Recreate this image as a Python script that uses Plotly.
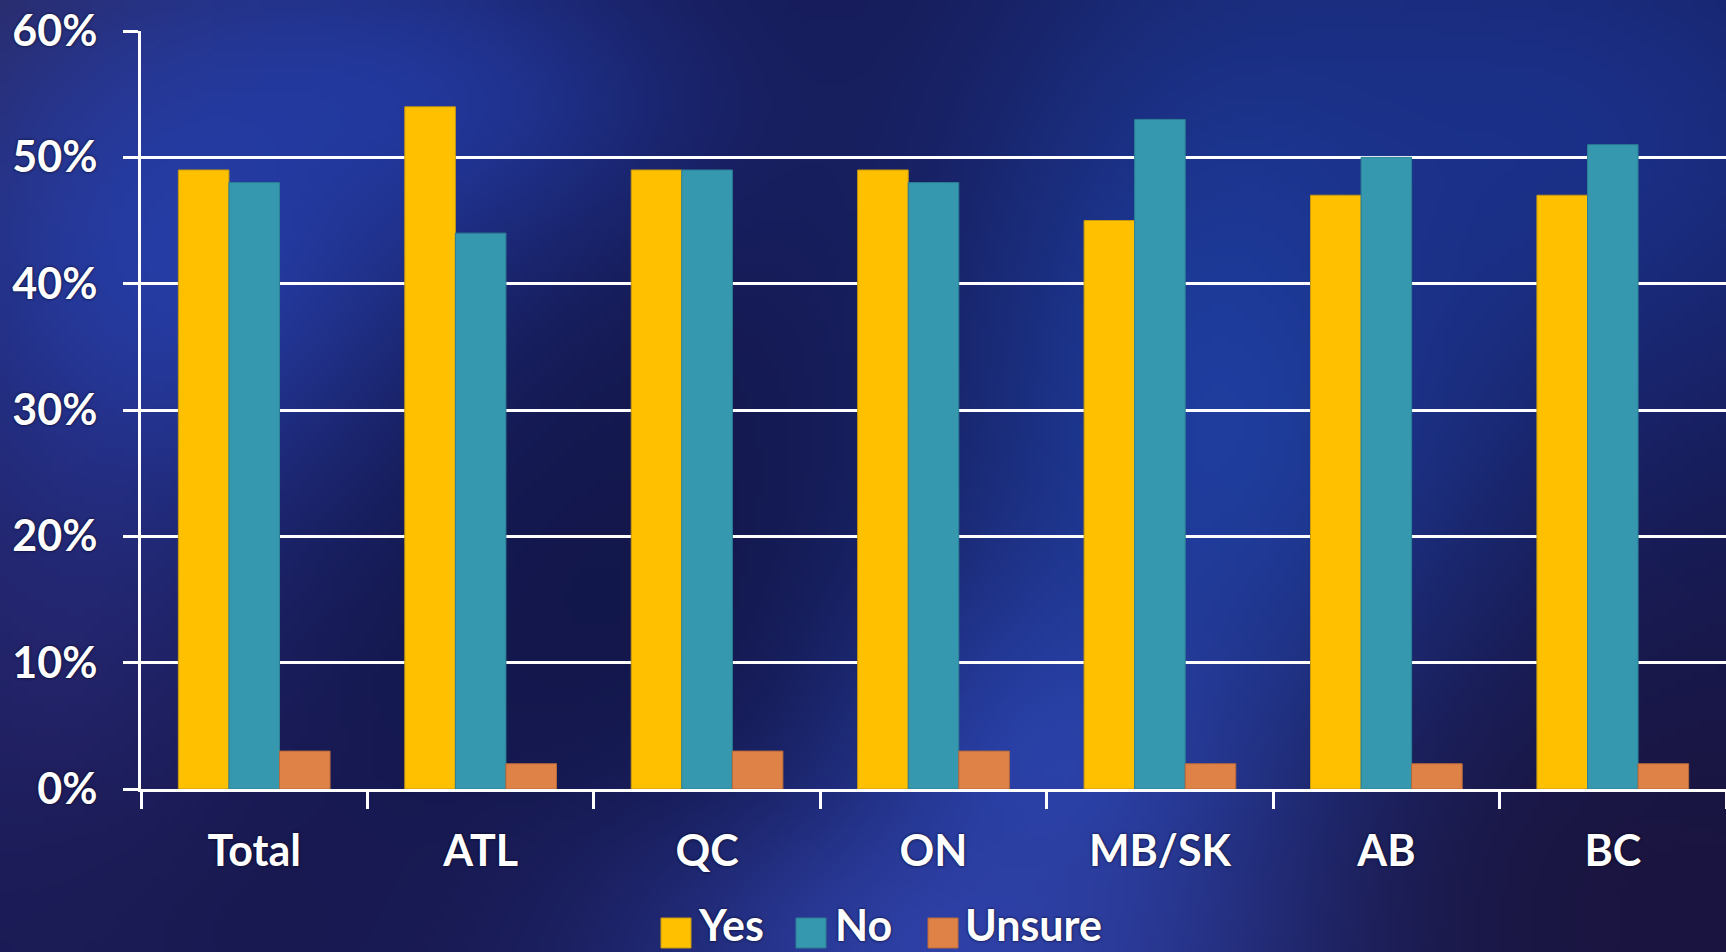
import base64
import struct
import zlib

import numpy as np
import plotly.graph_objects as go

# ---------------- data ----------------
categories = ["Total", "ATL", "QC", "ON", "MB/SK", "AB", "BC"]
yes_vals = [49, 54, 49, 49, 45, 47, 47]
no_vals = [48, 44, 49, 48, 53, 50, 51]
unsure_vals = [3, 2, 3, 3, 2, 2, 2]
series_names = ["Yes", "No", "Unsure"]
y_ticks = [0, 10, 20, 30, 40, 50, 60]
y_tick_labels = ["0%", "10%", "20%", "30%", "40%", "50%", "60%"]

# ---------------- style ----------------
W, H = 1726, 952
ML, MR, MT, MB = 141, 0, 31, 163
PW, PH = W - ML - MR, H - MT - MB
colors = ["#FFC000", "#3598AE", "#DF8248"]
edge_colors = ["#C89A10", "#2C7F95", "#B86A3A"]
FONT = "Lato"
FS = 43


# ---------------- background (soft glow texture) ----------------
def make_background():
    sc = 8
    w, h = W // sc + 1, H // sc + 1
    ys, xs = np.mgrid[0:h, 0:w].astype(float) * sc
    img = np.zeros((h, w, 3))
    img[:] = (22, 26, 84)
    blobs = [
        ((0, 0), (260, 220), (46, 42, 92), 0.85),
        ((60, 620), (150, 260), (42, 40, 115), 0.7),
        ((200, 260), (190, 190), (40, 66, 178), 0.9),
        ((400, 110), (200, 120), (36, 62, 172), 0.8),
        ((620, 620), (230, 260), (17, 21, 70), 0.7),
        ((1230, 420), (190, 320), (32, 70, 175), 0.85),
        ((1080, 780), (160, 150), (46, 76, 192), 0.85),
        ((960, 960), (260, 110), (52, 74, 188), 0.85),
        ((1560, 140), (260, 200), (28, 54, 150), 0.75),
        ((1680, 920), (320, 230), (27, 20, 60), 0.85),
        ((250, 920), (300, 120), (26, 24, 78), 0.6),
    ]
    for (cx, cy), (sx, sy), tgt, wgt in blobs:
        g = np.exp(-(((xs - cx) / sx) ** 2 + ((ys - cy) / sy) ** 2) / 2) * wgt
        for c in range(3):
            img[..., c] = img[..., c] * (1 - g) + tgt[c] * g
    img = np.clip(img, 0, 255).astype(np.uint8)
    raw = b"".join(b"\x00" + img[r].tobytes() for r in range(h))

    def chunk(tag, data):
        return (struct.pack(">I", len(data)) + tag + data
                + struct.pack(">I", zlib.crc32(tag + data) & 0xFFFFFFFF))

    png = (b"\x89PNG\r\n\x1a\n"
           + chunk(b"IHDR", struct.pack(">IIBBBBB", w, h, 8, 2, 0, 0, 0))
           + chunk(b"IDAT", zlib.compress(raw, 9))
           + chunk(b"IEND", b""))
    return "data:image/png;base64," + base64.b64encode(png).decode()


fig = go.Figure()
for name, vals, col, ec in zip(series_names, [yes_vals, no_vals, unsure_vals],
                               colors, edge_colors):
    fig.add_trace(go.Bar(
        x=categories, y=vals, name=name,
        marker=dict(color=col, line=dict(color=ec, width=1)),
        showlegend=False,
    ))

font = dict(family=FONT, size=FS, color="white", weight="bold",
            shadow="0px 0px 3px rgba(0,0,20,0.9)")

fig.update_layout(
    width=W, height=H,
    margin=dict(l=ML, r=MR, t=MT, b=MB, pad=0),
    paper_bgcolor="#161a54",
    plot_bgcolor="rgba(0,0,0,0)",
    barmode="group", bargap=0.33, bargroupgap=0,
    font=font,
    xaxis=dict(
        type="category", range=[-0.5, 6.5],
        showgrid=False, zeroline=False,
        showline=True, linecolor="white", linewidth=3,
        ticks="outside", tickson="boundaries", ticklen=17,
        tickwidth=3, tickcolor="white",
        tickfont=font, ticklabelstandoff=22,
    ),
    yaxis=dict(
        range=[0, 60], tickvals=y_ticks, ticktext=y_tick_labels,
        showgrid=True, gridcolor="white", gridwidth=3,
        zeroline=False,
        showline=True, linecolor="white", linewidth=3,
        ticks="outside", ticklen=15, tickwidth=3, tickcolor="white",
        tickfont=font, ticklabelstandoff=17,
    ),
    images=[dict(
        source=make_background(), xref="paper", yref="paper",
        x=-ML / PW, y=1 + MT / PH, sizex=W / PW, sizey=H / PH,
        xanchor="left", yanchor="top", sizing="stretch", layer="below",
    )],
)

# ---------------- manual legend with large swatches ----------------
legend_sw_left = [661, 796, 928]
legend_txt_left = [697, 834, 964]
sw_size = 30
sw_top, sw_bot = 918, 948
for name, col, ec, sx, tx in zip(series_names, colors, edge_colors,
                                 legend_sw_left, legend_txt_left):
    fig.add_shape(
        type="rect", xref="paper", yref="paper",
        x0=(sx - ML) / PW, x1=(sx + sw_size - ML) / PW,
        y0=(MT + PH - sw_bot) / PH, y1=(MT + PH - sw_top) / PH,
        fillcolor=col, line=dict(color=ec, width=1), layer="above",
    )
    fig.add_annotation(
        x=(tx - ML) / PW, y=(MT + PH - 951) / PH, xref="paper", yref="paper",
        text=name, showarrow=False, xanchor="left", yanchor="bottom",
        font=font, borderpad=0,
    )

fig.write_html(
    "out.html",
    config={"displayModeBar": False},
    post_script="document.body.style.margin='0';document.body.style.overflow='hidden';",
)
